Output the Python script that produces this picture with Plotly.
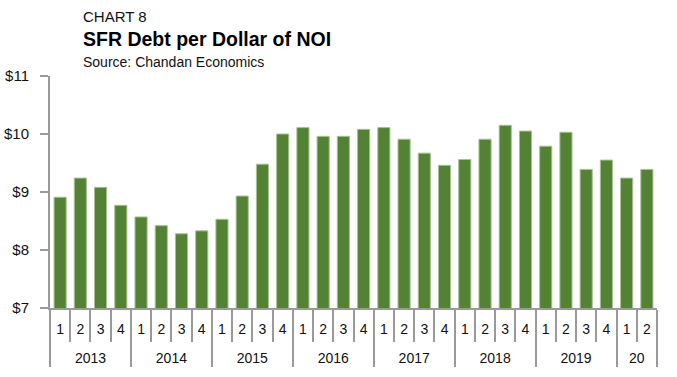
import plotly.graph_objects as go

years = ["2013"]*4 + ["2014"]*4 + ["2015"]*4 + ["2016"]*4 + ["2017"]*4 + ["2018"]*4 + ["2019"]*4 + ["20"]*2
quarters = ["1", "2", "3", "4"]*7 + ["1", "2"]
values = [8.91, 9.24, 9.08, 8.77, 8.57, 8.42, 8.28, 8.33, 8.53, 8.93, 9.48, 10.00,
          10.11, 9.96, 9.96, 10.08, 10.11, 9.91, 9.67, 9.46, 9.56, 9.91, 10.15, 10.05,
          9.79, 10.03, 9.39, 9.55, 9.24, 9.39]
y_ticks = [7, 8, 9, 10, 11]

font = "Liberation Sans, Arial, sans-serif"
axis_col = "#9a9a9a"

year_labels = ["<br>" + y for y in years]

fig = go.Figure(go.Bar(
    x=[year_labels, quarters], y=values,
    marker=dict(color="#548235", line=dict(color="#a8c293", width=1)),
    width=0.6,
))

fig.update_layout(
    width=677, height=377,
    margin=dict(l=50, r=20, t=76, b=69),
    plot_bgcolor="white", paper_bgcolor="white",
    showlegend=False,
    font=dict(family=font, size=14, color="#111"),
)
fig.update_yaxes(
    range=[7, 11], tickvals=y_ticks, ticktext=[f"${v}" for v in y_ticks],
    showgrid=False, zeroline=False, showline=True, linecolor=axis_col, linewidth=2,
    ticks="outside", ticklen=8, tickcolor=axis_col, tickwidth=1.5,
    ticklabelstandoff=8, automargin=False,
    tickfont=dict(size=15, family=font, color="#111"),
)
fig.update_xaxes(
    type="multicategory", showgrid=False, zeroline=False,
    showline=True, linecolor=axis_col, linewidth=2,
    ticks="outside", tickson="boundaries", ticklen=32, tickcolor=axis_col, tickwidth=1.5,
    showdividers=True, dividercolor=axis_col, dividerwidth=1.5,
    ticklabelstandoff=7, automargin=False,
    tickfont=dict(size=14, family=font, color="#111"),
)

fig.add_annotation(text="CHART 8", xref="paper", yref="paper", x=0.051, y=1.0, yshift=60,
                   xanchor="left", yanchor="middle", showarrow=False,
                   font=dict(size=15, family=font, color="#111"))
fig.add_annotation(text="<b>SFR Debt per Dollar of NOI</b>", xref="paper", yref="paper",
                   x=0.051, y=1.0, yshift=37, xanchor="left", yanchor="middle", showarrow=False,
                   font=dict(size=19.5, family=font, color="#000"))
fig.add_annotation(text="Source: Chandan Economics", xref="paper", yref="paper",
                   x=0.051, y=1.0, yshift=14, xanchor="left", yanchor="middle", showarrow=False,
                   font=dict(size=14, family=font, color="#111"))

fig.write_html("out.html", config={"displayModeBar": False},
               post_script="document.body.style.margin='0';")
